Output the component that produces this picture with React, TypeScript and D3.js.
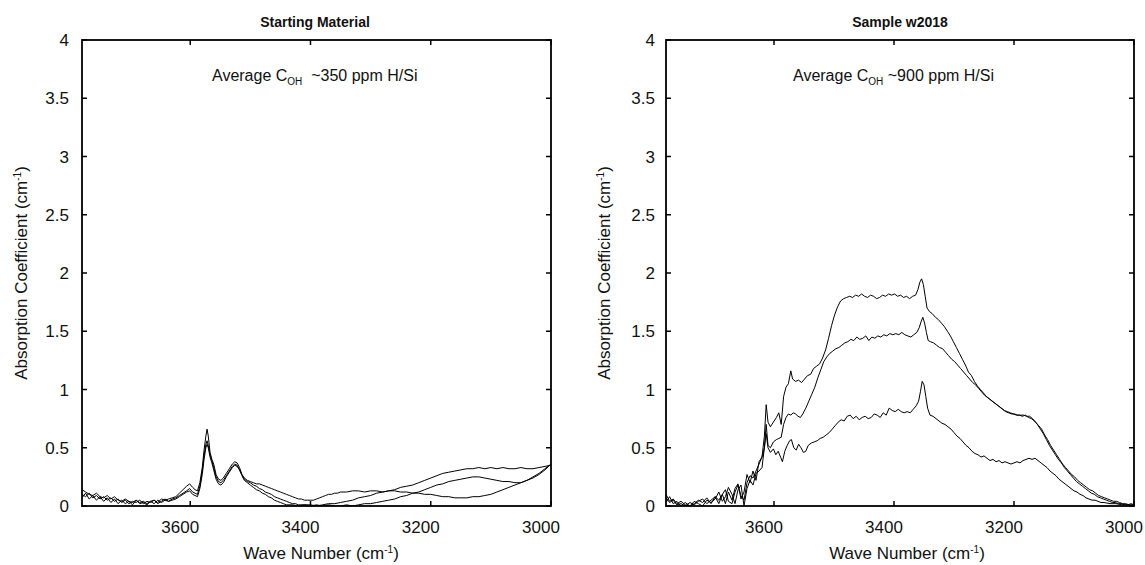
import React from "react";
import * as d3 from "d3";

// ---------- data (wave number cm-1, absorption coefficient cm-1) ----------
const xTicks = [3600, 3400, 3200, 3000];
const yTicks = [0, 0.5, 1, 1.5, 2, 2.5, 3, 3.5, 4];
const yTickLabels = ["0", "0.5", "1", "1.5", "2", "2.5", "3", "3.5", "4"];

const startCurve1: [number, number][] = [
  [3780,0.14],[3774,0.12],[3768,0.1],[3762,0.09],[3756,0.11],[3750,0.08],[3744,0.07],[3738,0.09],[3732,0.06],[3726,0.08],[3720,0.05],[3714,0.04],[3708,0.06],[3702,0.04],[3696,0.03],[3690,0.05],[3684,0.03],[3678,0.04],[3672,0.02],[3666,0.04],[3660,0.05],[3654,0.03],[3648,0.06],[3642,0.05],[3636,0.06],[3630,0.07],[3624,0.08],[3618,0.11],[3612,0.14],[3606,0.17],[3601,0.19],[3596,0.16],[3592,0.14],[3588,0.13],[3584,0.2],[3580,0.33],[3577,0.48],[3574,0.6],[3572,0.66],[3570,0.6],[3567,0.46],[3564,0.4],[3561,0.36],[3557,0.27],[3553,0.23],[3549,0.22],[3545,0.24],[3540,0.28],[3535,0.32],[3530,0.36],[3526,0.38],[3522,0.37],[3518,0.33],[3514,0.27],[3510,0.23],[3505,0.21],[3500,0.2],[3495,0.18],[3490,0.17],[3485,0.15],[3480,0.14],[3475,0.12],[3470,0.11],[3465,0.1],[3460,0.08],[3455,0.07],[3450,0.06],[3445,0.05],[3440,0.04],[3435,0.03],[3430,0.02],[3425,0.02],[3420,0.01],[3410,0.01],[3400,0.01],[3390,0.0],[3380,0.01],[3370,0.02],[3360,0.02],[3350,0.03],[3340,0.04],[3330,0.05],[3320,0.07],[3310,0.08],[3300,0.09],[3290,0.11],[3280,0.12],[3270,0.13],[3260,0.14],[3250,0.16],[3240,0.17],[3230,0.18],[3220,0.2],[3210,0.22],[3200,0.24],[3190,0.26],[3180,0.28],[3170,0.29],[3160,0.3],[3150,0.31],[3140,0.32],[3130,0.32],[3120,0.33],[3110,0.32],[3100,0.33],[3090,0.32],[3080,0.33],[3070,0.32],[3060,0.32],[3050,0.33],[3040,0.32],[3030,0.32],[3020,0.33],[3010,0.34],[3000,0.35]
];

const startCurve2: [number, number][] = [
  [3780,0.1],[3774,0.08],[3768,0.11],[3762,0.07],[3756,0.09],[3750,0.06],[3744,0.08],[3738,0.05],[3732,0.07],[3726,0.04],[3720,0.06],[3714,0.03],[3708,0.05],[3702,0.02],[3696,0.04],[3690,0.03],[3684,0.05],[3678,0.02],[3672,0.04],[3666,0.03],[3660,0.05],[3654,0.02],[3648,0.04],[3642,0.06],[3636,0.04],[3630,0.06],[3624,0.07],[3618,0.09],[3612,0.11],[3606,0.13],[3601,0.15],[3596,0.12],[3592,0.11],[3588,0.1],[3584,0.17],[3580,0.3],[3577,0.43],[3574,0.53],[3572,0.56],[3570,0.52],[3567,0.44],[3564,0.39],[3561,0.33],[3557,0.25],[3553,0.21],[3549,0.2],[3545,0.22],[3540,0.26],[3535,0.3],[3530,0.34],[3526,0.36],[3522,0.35],[3518,0.31],[3514,0.26],[3510,0.22],[3505,0.2],[3500,0.18],[3495,0.16],[3490,0.14],[3485,0.13],[3480,0.11],[3475,0.1],[3470,0.08],[3465,0.07],[3460,0.05],[3455,0.04],[3450,0.03],[3445,0.02],[3440,0.01],[3430,0.01],[3420,0.0],[3410,0.01],[3400,0.0],[3390,0.01],[3380,0.0],[3370,0.01],[3360,0.0],[3350,0.0],[3340,0.01],[3330,0.0],[3320,0.01],[3310,0.02],[3300,0.02],[3290,0.03],[3280,0.04],[3270,0.05],[3260,0.06],[3250,0.08],[3240,0.09],[3230,0.11],[3220,0.12],[3210,0.14],[3200,0.16],[3190,0.18],[3180,0.19],[3170,0.21],[3160,0.22],[3150,0.23],[3140,0.24],[3130,0.25],[3120,0.25],[3110,0.24],[3100,0.23],[3090,0.22],[3080,0.21],[3070,0.21],[3060,0.2],[3050,0.2],[3040,0.22],[3030,0.24],[3020,0.27],[3010,0.31],[3000,0.36]
];

const startCurve3: [number, number][] = [
  [3780,0.07],[3774,0.11],[3768,0.06],[3762,0.09],[3756,0.05],[3750,0.08],[3744,0.04],[3738,0.07],[3732,0.03],[3726,0.06],[3720,0.02],[3714,0.05],[3708,0.02],[3702,0.04],[3696,0.01],[3690,0.05],[3684,0.02],[3678,0.03],[3672,0.01],[3666,0.04],[3660,0.02],[3654,0.05],[3648,0.03],[3642,0.05],[3636,0.04],[3630,0.05],[3624,0.06],[3618,0.08],[3612,0.1],[3606,0.12],[3601,0.13],[3596,0.1],[3592,0.09],[3588,0.08],[3584,0.15],[3580,0.27],[3577,0.4],[3574,0.5],[3572,0.53],[3570,0.5],[3567,0.42],[3564,0.37],[3561,0.31],[3557,0.23],[3553,0.19],[3549,0.18],[3545,0.2],[3540,0.25],[3535,0.29],[3530,0.33],[3526,0.35],[3522,0.34],[3518,0.31],[3514,0.27],[3510,0.24],[3505,0.22],[3500,0.21],[3495,0.2],[3490,0.19],[3485,0.19],[3480,0.18],[3475,0.17],[3470,0.16],[3465,0.15],[3460,0.14],[3455,0.13],[3450,0.12],[3445,0.11],[3440,0.1],[3435,0.09],[3430,0.08],[3425,0.07],[3420,0.06],[3415,0.06],[3410,0.05],[3405,0.05],[3400,0.05],[3395,0.05],[3390,0.06],[3385,0.07],[3380,0.08],[3375,0.09],[3370,0.1],[3365,0.1],[3360,0.11],[3355,0.11],[3350,0.12],[3340,0.12],[3330,0.13],[3320,0.13],[3310,0.12],[3300,0.13],[3290,0.13],[3280,0.12],[3270,0.13],[3260,0.13],[3250,0.12],[3240,0.12],[3230,0.11],[3220,0.11],[3210,0.1],[3200,0.1],[3190,0.09],[3180,0.08],[3170,0.08],[3160,0.07],[3150,0.07],[3140,0.07],[3130,0.08],[3120,0.08],[3110,0.09],[3100,0.1],[3090,0.12],[3080,0.14],[3070,0.16],[3060,0.18],[3050,0.2],[3040,0.22],[3030,0.25],[3020,0.28],[3010,0.32],[3000,0.36]
];

const sampleCurve1: [number, number][] = [
  [3780,0.07],[3774,0.03],[3768,0.05],[3762,0.01],[3755,0.02],[3748,0.0],[3740,0.03],[3733,0.01],[3726,0.04],[3719,0.06],[3712,0.02],[3705,0.05],[3698,0.08],[3692,0.02],[3686,0.1],[3681,0.14],[3676,0.04],[3670,0.02],[3665,0.12],[3660,0.18],[3655,0.09],[3650,0.05],[3645,0.2],[3640,0.26],[3635,0.24],[3630,0.3],[3625,0.36],[3620,0.42],[3616,0.6],[3613,0.87],[3610,0.72],[3606,0.68],[3601,0.72],[3596,0.76],[3592,0.8],[3588,0.7],[3584,0.94],[3580,1.02],[3576,1.05],[3572,1.16],[3569,1.09],[3564,1.07],[3559,1.08],[3554,1.06],[3549,1.09],[3544,1.12],[3539,1.13],[3534,1.18],[3529,1.2],[3524,1.22],[3519,1.27],[3514,1.34],[3509,1.44],[3504,1.55],[3499,1.64],[3494,1.71],[3489,1.76],[3484,1.78],[3479,1.79],[3474,1.8],[3469,1.79],[3464,1.81],[3459,1.8],[3454,1.82],[3449,1.8],[3444,1.79],[3439,1.81],[3434,1.8],[3429,1.78],[3424,1.79],[3419,1.81],[3414,1.8],[3409,1.82],[3404,1.81],[3399,1.82],[3394,1.8],[3389,1.81],[3384,1.79],[3379,1.8],[3374,1.78],[3369,1.8],[3364,1.81],[3360,1.86],[3357,1.92],[3354,1.95],[3351,1.9],[3348,1.8],[3345,1.7],[3341,1.67],[3336,1.65],[3331,1.62],[3326,1.6],[3321,1.57],[3316,1.54],[3311,1.5],[3306,1.46],[3301,1.41],[3296,1.36],[3291,1.31],[3286,1.26],[3281,1.21],[3276,1.15],[3271,1.12],[3266,1.07],[3261,1.03],[3256,1.0],[3251,0.97],[3246,0.94],[3241,0.92],[3236,0.9],[3231,0.88],[3226,0.86],[3221,0.84],[3216,0.82],[3211,0.81],[3206,0.8],[3201,0.79],[3196,0.78],[3191,0.78],[3186,0.77],[3181,0.78],[3176,0.76],[3171,0.75],[3166,0.73],[3161,0.7],[3156,0.66],[3151,0.62],[3146,0.57],[3141,0.52],[3136,0.48],[3131,0.44],[3126,0.4],[3121,0.37],[3116,0.33],[3111,0.3],[3106,0.27],[3101,0.24],[3096,0.21],[3091,0.19],[3086,0.17],[3081,0.15],[3076,0.13],[3071,0.11],[3066,0.1],[3061,0.08],[3056,0.07],[3051,0.06],[3046,0.05],[3041,0.04],[3036,0.03],[3031,0.03],[3026,0.02],[3021,0.02],[3016,0.01],[3010,0.01],[3005,0.02],[3000,0.01]
];

const sampleCurve2: [number, number][] = [
  [3780,0.03],[3774,0.08],[3768,0.02],[3762,0.04],[3755,0.0],[3748,0.03],[3740,0.0],[3733,0.04],[3726,0.02],[3719,0.0],[3712,0.05],[3705,0.03],[3698,0.06],[3692,0.12],[3686,0.04],[3681,0.08],[3676,0.16],[3670,0.1],[3665,0.02],[3660,0.14],[3655,0.18],[3650,0.0],[3645,0.15],[3640,0.22],[3635,0.18],[3630,0.28],[3625,0.3],[3620,0.33],[3616,0.5],[3613,0.7],[3610,0.52],[3606,0.5],[3601,0.55],[3596,0.57],[3592,0.58],[3588,0.59],[3584,0.7],[3580,0.76],[3576,0.79],[3572,0.78],[3568,0.8],[3564,0.79],[3560,0.77],[3556,0.76],[3552,0.79],[3547,0.84],[3542,0.9],[3537,0.96],[3532,1.02],[3527,1.1],[3522,1.17],[3517,1.24],[3512,1.28],[3507,1.31],[3502,1.33],[3497,1.35],[3492,1.36],[3487,1.38],[3482,1.4],[3477,1.41],[3472,1.43],[3467,1.42],[3462,1.45],[3457,1.43],[3452,1.44],[3447,1.46],[3442,1.42],[3437,1.45],[3432,1.44],[3427,1.46],[3422,1.45],[3417,1.47],[3412,1.46],[3407,1.48],[3402,1.47],[3397,1.48],[3392,1.47],[3387,1.49],[3382,1.47],[3377,1.46],[3372,1.45],[3367,1.47],[3362,1.49],[3358,1.53],[3355,1.58],[3352,1.62],[3349,1.57],[3346,1.49],[3343,1.42],[3339,1.41],[3334,1.4],[3329,1.38],[3324,1.36],[3319,1.35],[3314,1.32],[3309,1.29],[3304,1.26],[3299,1.24],[3294,1.21],[3289,1.18],[3284,1.15],[3279,1.12],[3274,1.09],[3269,1.06],[3264,1.04],[3259,1.01],[3254,0.98],[3249,0.95],[3244,0.93],[3239,0.91],[3234,0.89],[3229,0.87],[3224,0.85],[3219,0.83],[3214,0.81],[3209,0.8],[3204,0.79],[3199,0.79],[3194,0.78],[3189,0.78],[3184,0.78],[3179,0.77],[3174,0.77],[3169,0.75],[3164,0.72],[3159,0.69],[3154,0.66],[3149,0.61],[3144,0.57],[3139,0.52],[3134,0.48],[3129,0.44],[3124,0.4],[3119,0.36],[3114,0.33],[3109,0.3],[3104,0.27],[3099,0.25],[3094,0.22],[3089,0.2],[3084,0.18],[3079,0.16],[3074,0.14],[3069,0.13],[3064,0.11],[3059,0.09],[3054,0.08],[3049,0.07],[3044,0.06],[3039,0.05],[3034,0.04],[3029,0.04],[3024,0.03],[3019,0.02],[3014,0.02],[3008,0.01],[3000,0.01]
];

const sampleCurve3: [number, number][] = [
  [3780,0.1],[3774,0.04],[3768,0.06],[3762,0.02],[3755,0.04],[3748,0.01],[3740,0.0],[3733,0.02],[3726,0.05],[3719,0.03],[3712,0.07],[3705,0.02],[3698,0.08],[3692,0.05],[3686,0.1],[3681,0.02],[3676,0.12],[3670,0.05],[3665,0.15],[3660,0.19],[3655,0.06],[3650,0.12],[3645,0.27],[3640,0.2],[3635,0.3],[3630,0.22],[3625,0.38],[3620,0.42],[3616,0.5],[3613,0.62],[3610,0.5],[3606,0.46],[3601,0.49],[3597,0.44],[3593,0.47],[3589,0.42],[3586,0.38],[3582,0.47],[3578,0.52],[3574,0.56],[3571,0.57],[3567,0.5],[3563,0.48],[3559,0.53],[3555,0.5],[3551,0.46],[3547,0.47],[3543,0.52],[3538,0.54],[3533,0.55],[3528,0.56],[3523,0.58],[3518,0.59],[3513,0.61],[3508,0.63],[3503,0.66],[3498,0.69],[3493,0.72],[3488,0.74],[3483,0.73],[3478,0.77],[3473,0.78],[3468,0.75],[3463,0.77],[3458,0.74],[3453,0.76],[3448,0.77],[3443,0.75],[3438,0.76],[3433,0.79],[3428,0.78],[3423,0.76],[3418,0.8],[3413,0.78],[3408,0.84],[3403,0.82],[3398,0.81],[3393,0.83],[3388,0.81],[3383,0.8],[3378,0.81],[3373,0.8],[3368,0.83],[3363,0.86],[3359,0.9],[3356,0.98],[3353,1.07],[3350,1.04],[3347,0.94],[3344,0.84],[3340,0.78],[3335,0.77],[3330,0.75],[3325,0.73],[3320,0.71],[3315,0.7],[3310,0.68],[3305,0.66],[3300,0.63],[3295,0.6],[3290,0.58],[3285,0.55],[3280,0.52],[3275,0.5],[3270,0.47],[3265,0.45],[3260,0.44],[3255,0.42],[3250,0.43],[3245,0.41],[3240,0.39],[3235,0.4],[3230,0.38],[3225,0.39],[3220,0.37],[3215,0.38],[3210,0.37],[3205,0.36],[3200,0.37],[3195,0.38],[3190,0.37],[3185,0.39],[3180,0.4],[3175,0.41],[3170,0.4],[3165,0.41],[3160,0.39],[3155,0.37],[3150,0.35],[3145,0.33],[3140,0.3],[3135,0.28],[3130,0.26],[3125,0.23],[3120,0.21],[3115,0.19],[3110,0.17],[3105,0.15],[3100,0.13],[3095,0.12],[3090,0.1],[3085,0.09],[3080,0.07],[3075,0.06],[3070,0.05],[3065,0.05],[3060,0.04],[3055,0.03],[3050,0.03],[3040,0.02],[3030,0.02],[3020,0.01],[3010,0.01],[3000,0.0]
];

const startCurves = [startCurve1, startCurve2, startCurve3];
const sampleCurves = [sampleCurve1, sampleCurve2, sampleCurve3];

const FONT = "'Liberation Sans', Arial, Helvetica, sans-serif";

type PanelProps = {
  left: number;
  right: number;
  title: string;
  titleX: number;
  noteX: number;
  noteValue: string;
  xTitleX: number;
  yTitleX: number;
  yLabelGap: number;
  curves: [number, number][][];
  clipId: string;
};

const TOP = 40;
const BOTTOM = 506;

function Panel(p: PanelProps) {
  const x = d3.scaleLinear().domain([3780, 3000]).range([p.left, p.right]);
  const y = d3.scaleLinear().domain([0, 4]).range([BOTTOM, TOP]);
  const line = d3
    .line<[number, number]>()
    .x((d) => x(d[0]))
    .y((d) => y(d[1]));
  const tickLen = 5;
  return (
    <g>
      <defs>
        <clipPath id={p.clipId}>
          <rect x={p.left} y={TOP} width={p.right - p.left} height={BOTTOM - TOP} />
        </clipPath>
      </defs>
      <g clipPath={`url(#${p.clipId})`}>
        {p.curves.map((c, i) => (
          <path key={i} d={line(c) || ""} fill="none" stroke="#000" strokeWidth={1} strokeLinejoin="round" />
        ))}
      </g>
      <rect x={p.left} y={TOP} width={p.right - p.left} height={BOTTOM - TOP} fill="none" stroke="#000" strokeWidth={1.8} />
      {xTicks.map((t) => (
        <g key={"xt" + t}>
          <line x1={x(t)} x2={x(t)} y1={BOTTOM} y2={BOTTOM - tickLen} stroke="#000" strokeWidth={1.5} />
          <line x1={x(t)} x2={x(t)} y1={TOP} y2={TOP + tickLen} stroke="#000" strokeWidth={1.5} />
          <text x={x(t) - 10} y={533} textAnchor="middle" fontSize={17} fontFamily={FONT} fill="#111">
            {t}
          </text>
        </g>
      ))}
      {yTicks.map((t, i) => (
        <g key={"yt" + t}>
          <line x1={p.left} x2={p.left + tickLen} y1={y(t)} y2={y(t)} stroke="#000" strokeWidth={1.5} />
          <line x1={p.right} x2={p.right - tickLen} y1={y(t)} y2={y(t)} stroke="#000" strokeWidth={1.5} />
          <text x={p.left - p.yLabelGap} y={y(t) + 6} textAnchor="end" fontSize={17} fontFamily={FONT} fill="#111">
            {yTickLabels[i]}
          </text>
        </g>
      ))}
      <text x={p.titleX} y={27} textAnchor="middle" fontSize={14} fontWeight="bold" fontFamily={FONT} fill="#111">
        {p.title}
      </text>
      <text x={p.noteX} y={81} fontSize={16} fontFamily={FONT} fill="#111" style={{ whiteSpace: "pre" }}>
        Average C
        <tspan fontSize={10} dy={4}>OH</tspan>
        <tspan dy={-4}>{p.noteValue}</tspan>
      </text>
      <text x={p.xTitleX} y={559} textAnchor="middle" fontSize={17} fontFamily={FONT} fill="#111">
        Wave Number (cm
        <tspan fontSize={10} dy={-6}>-1</tspan>
        <tspan dy={6}>)</tspan>
      </text>
      <text
        transform={`translate(${p.yTitleX},${(TOP + BOTTOM) / 2}) rotate(-90)`}
        textAnchor="middle"
        fontSize={17}
        fontFamily={FONT}
        fill="#111"
      >
        Absorption Coefficient (cm
        <tspan fontSize={10} dy={-6}>-1</tspan>
        <tspan dy={6}>)</tspan>
      </text>
    </g>
  );
}

export default function App() {
  return (
    <div style={{ position: "absolute", left: 0, top: 0, width: 1145, height: 565, background: "#fff" }}>
      <svg width={1145} height={565} viewBox="0 0 1145 565" style={{ display: "block" }}>
        <rect x={0} y={0} width={1145} height={565} fill="#fff" />
        <Panel
          left={82}
          right={551}
          title="Starting Material"
          titleX={315}
          noteX={212}
          noteValue={"  ~350 ppm H/Si"}
          xTitleX={321}
          yTitleX={27}
          yLabelGap={13}
          curves={startCurves}
          clipId="clipL"
        />
        <Panel
          left={666}
          right={1134}
          title="Sample w2018"
          titleX={900}
          noteX={793}
          noteValue={" ~900 ppm H/Si"}
          xTitleX={907}
          yTitleX={610}
          yLabelGap={11}
          curves={sampleCurves}
          clipId="clipR"
        />
      </svg>
    </div>
  );
}
